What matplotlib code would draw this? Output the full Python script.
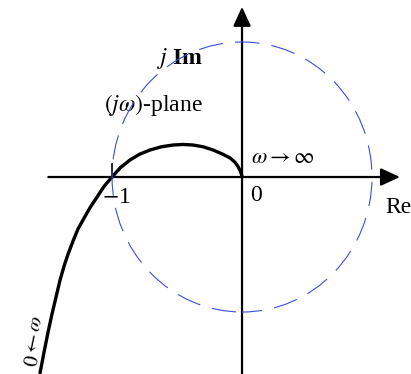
import matplotlib.pyplot as plt
from matplotlib.patches import Circle

plt.rcParams['font.family'] = ['Liberation Serif', 'DejaVu Serif']
plt.rcParams['mathtext.fontset'] = 'stix'

# Nyquist locus read point by point (Re, Im), from low frequency up to w -> inf
nyq_re = [-1.554, -1.523, -1.492, -1.462, -1.431, -1.400, -1.369, -1.338,
          -1.300, -1.262, -1.215, -1.169, -1.115, -1.062, -1.0, -0.935,
          -0.862, -0.790, -0.708, -0.620, -0.531, -0.454, -0.377, -0.300,
          -0.223, -0.155, -0.092, -0.055, -0.031, -0.014, -0.004, 0.0]
nyq_im = [-1.452, -1.296, -1.148, -1.015, -0.889, -0.763, -0.659, -0.570,
          -0.474, -0.385, -0.304, -0.226, -0.148, -0.070, 0.0, 0.070,
          0.126, 0.168, 0.200, 0.224, 0.237, 0.241, 0.237, 0.224,
          0.200, 0.172, 0.141, 0.110, 0.078, 0.046, 0.020, 0.0]

unit_radius = 1.0
critical_point = -1.0

fig = plt.figure(figsize=(4.11, 3.74), dpi=100)
ax = fig.add_axes([0, 0, 1, 1])
ax.set_xlim(-1.862, 1.30)
ax.set_ylim(-1.459, 1.311)
ax.axis('off')

# real and imaginary axes with arrow heads
arrow = dict(arrowstyle='-|>,head_length=0.65,head_width=0.3',
             lw=1.6, color='black', mutation_scale=18, shrinkA=0, shrinkB=0)
ax.annotate('', xy=(1.215, 0), xytext=(-1.49, 0), arrowprops=arrow)
ax.annotate('', xy=(0, 1.26), xytext=(0, -1.46), arrowprops=arrow)

# small tick at the critical point
ax.plot([critical_point, critical_point], [0, 0.10], color='black', lw=1.2)

# unit circle
ax.add_patch(Circle((0, 0), unit_radius, fill=False, edgecolor='#3a4fd6',
                    lw=0.8, linestyle=(4, (22, 11)), zorder=5))

# Nyquist plot
ax.plot(nyq_re, nyq_im, color='black', lw=2.4, solid_capstyle='round',
        solid_joinstyle='round', zorder=4)

ax.text(-0.475, 0.88, r'$j$ Im', fontsize=17, ha='center', va='center',
        fontweight='bold')
ax.text(-0.685, 0.53, r'$(j\omega)$-plane', fontsize=17, ha='center',
        va='center')
ax.text(0.315, 0.135, r'$\omega \rightarrow \infty$', fontsize=16,
        ha='center', va='center')
ax.text(0.11, -0.14, '0', fontsize=17, ha='center', va='center')
ax.text(-0.965, -0.15, '$-$1', fontsize=17, ha='center', va='center')
ax.text(1.105, -0.225, 'Re', fontsize=17, ha='left', va='center')
ax.text(-1.62, -1.21, r'$\omega \rightarrow 0$', fontsize=15, ha='center',
        va='center', rotation=-102)

fig.savefig('out.png', dpi=100)
